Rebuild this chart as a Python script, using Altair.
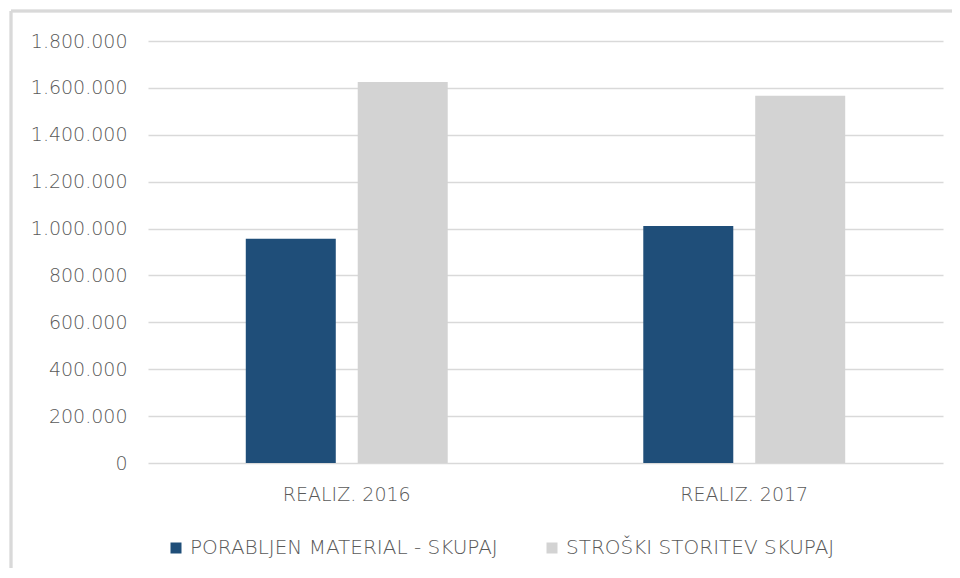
import altair as alt
import pandas as pd

categories = ["REALIZ. 2016", "REALIZ. 2017"]
series = ["PORABLJEN MATERIAL - SKUPAJ", "STROŠKI STORITEV SKUPAJ"]
material = [956000, 1011000]
storitve = [1625000, 1566000]
y_ticks = [0, 200000, 400000, 600000, 800000, 1000000, 1200000, 1400000, 1600000, 1800000]

rows = []
for i, c in enumerate(categories):
    rows.append({"cat": c, "series": series[0], "value": material[i], "order": 0})
    rows.append({"cat": c, "series": series[1], "value": storitve[i], "order": 1})
df = pd.DataFrame(rows)

W, H = 795, 422
FONT = "DejaVu Sans"

bars = alt.Chart(df).mark_bar().encode(
    x=alt.X("cat:N", sort=categories, title=None,
            scale=alt.Scale(paddingInner=0.492, paddingOuter=0.246),
            axis=alt.Axis(labelAngle=0, ticks=False, domain=False, labelPadding=22,
                          labelFont=FONT, labelFontSize=19, labelFontWeight=300,
                          labelColor="#595959")),
    xOffset=alt.XOffset("series:N", sort=series,
                        scale=alt.Scale(paddingInner=0.196, paddingOuter=0)),
    y=alt.Y("value:Q", title=None,
            scale=alt.Scale(domain=[0, 1800000], nice=False),
            axis=alt.Axis(values=y_ticks, ticks=False, domain=False, labelPadding=21,
                          labelExpr="replace(format(datum.value, ','), regexp(',', 'g'), '.')",
                          labelFont=FONT, labelFontSize=19, labelFontWeight=300,
                          labelColor="#595959",
                          gridColor="#d9d9d9", gridWidth=1.5)),
    color=alt.Color("series:N", sort=series,
                    scale=alt.Scale(domain=series, range=["#1f4e79", "#d3d3d3"]),
                    legend=alt.Legend(title=None, orient="none", legendX=18, legendY=497,
                                      direction="horizontal", symbolType="square",
                                      symbolSize=121, symbolStrokeWidth=0, labelOffset=4,
                                      columnPadding=44, padding=0, labelLimit=0,
                                      labelFont=FONT, labelFontSize=20, labelFontWeight=300,
                                      labelColor="#595959")),
)

frame_v = alt.Chart(df).mark_rule(color="#d9d9d9", strokeWidth=2.5).encode(
    x=alt.value(-137), y=alt.value(-30), y2=alt.value(600))
frame_h = alt.Chart(df).mark_rule(color="#d9d9d9", strokeWidth=2.5).encode(
    y=alt.value(-30), x=alt.value(-137), x2=alt.value(830))

chart = alt.layer(bars, frame_v, frame_h).properties(
    width=W, height=H,
    autosize=alt.AutoSizeParams(type="none"),
    padding={"left": 140, "top": 33, "right": 9, "bottom": 105},
).configure(background="white", view=alt.ViewConfig(stroke=None))

chart.save("out.html", embed_options={"renderer": "svg", "actions": False})
